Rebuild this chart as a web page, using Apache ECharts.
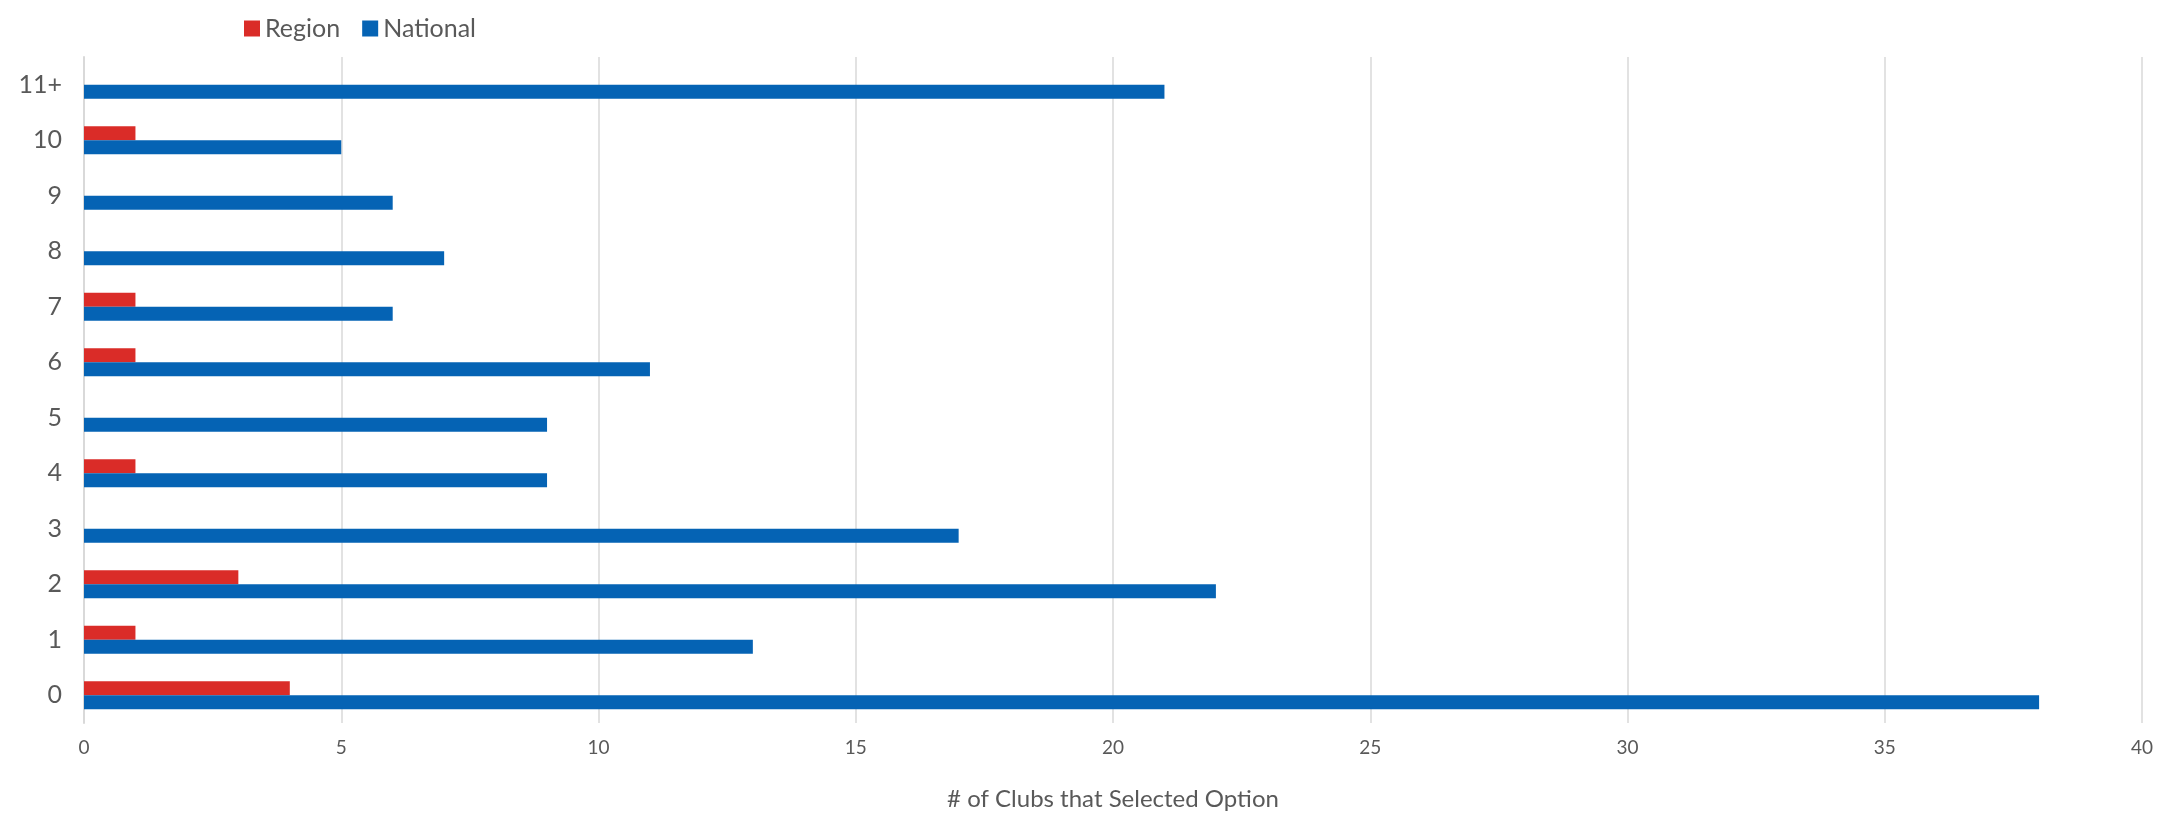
<!DOCTYPE html>
<html><head><meta charset="utf-8">
<script src="https://cdn.jsdelivr.net/npm/echarts@6/dist/echarts.min.js"></script>
<style>html,body{margin:0;padding:0;background:#fff}#c{width:2174px;height:816px}</style>
</head><body><div id="c"></div>
<script>
const categories = ['0','1','2','3','4','5','6','7','8','9','10','11+'];
const regionValues = [4,1,3,0,1,0,1,1,0,0,1,0];
const nationalValues = [38,13,22,17,9,9,11,6,7,6,5,21];
const xTicks = {min:0, max:40, interval:5};

const chart = echarts.init(document.getElementById('c'));
const font = 'Lato, "Open Sans", sans-serif';
chart.setOption({
  animation:false,
  textStyle:{fontFamily:font},
  legend:{
    data:['Region','National'],
    left:239, top:11,
    itemWidth:16, itemHeight:16, itemGap:22,
    icon:'rect',
    textStyle:{fontSize:25, color:'#595959', fontFamily:font}
  },
  grid:{left:84, right:32, top:57, bottom:90, containLabel:false},
  xAxis:{
    type:'value', min:xTicks.min, max:xTicks.max, interval:xTicks.interval,
    axisLine:{show:false}, axisTick:{show:false},
    splitLine:{lineStyle:{color:'#d9d9d9', width:1.5}},
    axisLabel:{fontSize:19, color:'#595959', margin:15},
    name:'# of Clubs that Selected Option', nameLocation:'middle', nameGap:64,
    nameTextStyle:{fontSize:24, color:'#595959'}
  },
  yAxis:{
    type:'category', data:categories,
    axisLine:{lineStyle:{color:'#d9d9d9', width:2}},
    axisTick:{show:false},
    axisLabel:{fontSize:25, color:'#595959', margin:22}
  },
  series:[
    {name:'Region', type:'bar', data:regionValues, itemStyle:{color:'#DA2C28'}, barWidth:14, barGap:'0%', barCategoryGap:'50%'},
    {name:'National', type:'bar', data:nationalValues, itemStyle:{color:'#0563B4'}, barWidth:14, barGap:'0%'}
  ]
});
</script></body></html>
